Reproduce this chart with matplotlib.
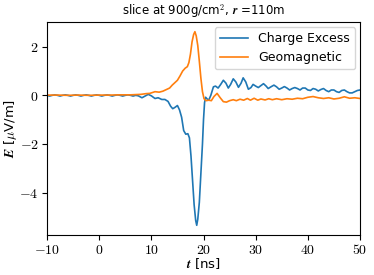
import matplotlib
matplotlib.use("Agg")
import matplotlib.pyplot as plt
from matplotlib.ticker import FuncFormatter

plt.rcParams['mathtext.fontset'] = 'cm'
plt.rcParams['font.family'] = ['DejaVu Sans']

# ---- data ----
t_ce = [-10, -9.5, -9, -8.5, -8, -7.5, -7, -6.5, -6, -5.5, -5, -4.5, -4, -3.5, -3, -2.5,
        -2, -1.5, -1, -0.5, 0, 0.5, 1, 1.5, 2, 2.5, 3, 3.5, 4, 4.5, 5, 5.5, 6, 6.5, 7,
        7.5, 8.2, 8.8, 9.4, 10.0, 10.7, 11.3, 12.0, 12.6, 13.2, 13.7, 14.1, 14.5, 15.0,
        15.4, 15.8, 16.2, 16.6, 17.0, 17.3, 17.6, 17.9, 18.2, 18.5, 18.7, 18.9, 19.2,
        19.5, 19.8, 20.0, 20.2, 20.4, 20.7, 21.0, 21.4, 21.9, 22.3, 22.8, 23.3, 23.8,
        24.3, 24.75, 25.2, 25.7, 26.2, 26.7, 27.2, 27.6, 28.1, 28.6, 29.1, 29.5, 30.0,
        30.5, 31.0, 31.5, 32.0, 32.4, 33.0, 33.5, 34.0, 34.5, 35.0, 35.5, 36.0, 36.5,
        37.0, 37.5, 38.0, 38.5, 39.0, 39.5, 40.0, 40.5, 41.0, 41.5, 42.0, 42.5, 43.0,
        43.5, 44.0, 44.5, 45.0, 45.5, 46.0, 46.5, 47.0, 47.5, 48.0, 48.5, 49.0, 49.5, 50.0]
e_ce = [0.0, -0.03, 0.0, 0.02, 0.0, -0.03, 0.0, 0.02, 0.0, -0.03, 0.0, 0.02, 0.0, -0.03,
        0.0, 0.02, 0.0, -0.03, 0.0, 0.02, 0.0, -0.03, 0.0, 0.02, 0.0, -0.03, 0.0, 0.02,
        0.0, -0.03, 0.0, 0.02, 0.0, -0.03, 0.0,
        -0.02, -0.1, -0.03, 0.04, -0.02, -0.13, -0.1, -0.17, -0.17, -0.25, -0.45, -0.55,
        -0.5, -0.42, -0.6, -0.9, -1.45, -1.6, -1.58, -1.75, -2.5, -3.5, -4.5, -5.15,
        -5.35, -5.1, -4.4, -3.2, -2.0, -1.0, -0.3, -0.08, -0.15, -0.2, 0.0, 0.35, 0.38,
        0.3, 0.45, 0.62, 0.5, 0.3, 0.45, 0.68, 0.55, 0.33, 0.5, 0.72, 0.55, 0.25, 0.32,
        0.45, 0.38, 0.32, 0.4, 0.48, 0.38, 0.28, 0.36, 0.42, 0.35, 0.25, 0.3, 0.36, 0.3,
        0.22, 0.28, 0.32, 0.28, 0.22, 0.3, 0.3, 0.22, 0.2, 0.28, 0.25, 0.18, 0.24, 0.28,
        0.2, 0.15, 0.22, 0.22, 0.15, 0.12, 0.2, 0.22, 0.15, 0.1, 0.1, 0.15, 0.2, 0.22]

t_geo = [-10, -8, -6, -4, -2, 0, 2, 4, 6, 7, 8, 9, 9.7, 10.7, 11.5, 12.2, 13, 13.5, 14,
         14.5, 15, 15.5, 16, 16.5, 16.9, 17.2, 17.5, 17.8, 18.1, 18.35, 18.6, 18.9, 19.2,
         19.5, 19.8, 20.1, 20.5, 21.0, 21.5, 22.0, 22.6, 23.2, 23.8, 24.4, 25.0, 25.7,
         26.3, 27.0, 27.7, 28.4, 29.0, 29.7, 30.4, 31.0, 31.8, 32.5, 33.2, 34, 35, 36, 37,
         38, 39, 40, 41, 42, 43, 44, 45, 46, 47, 48, 49, 50]
e_geo = [0.01, 0.01, 0.0, 0.01, 0.0, 0.01, 0.01, 0.02, 0.02, 0.03, 0.04, 0.07, 0.08, 0.15,
         0.13, 0.17, 0.25, 0.3, 0.42, 0.52, 0.62, 0.8, 1.0, 1.12, 1.18, 1.35, 1.7, 2.2,
         2.5, 2.62, 2.45, 2.05, 1.4, 0.7, 0.15, -0.14, -0.22, -0.2, -0.22, -0.05, 0.08,
         -0.1, -0.26, -0.28, -0.22, -0.18, -0.22, -0.16, -0.2, -0.13, -0.2, -0.12, -0.2,
         -0.15, -0.19, -0.14, -0.18, -0.14, -0.18, -0.14, -0.16, -0.12, -0.14, -0.08,
         -0.05, -0.1, -0.13, -0.1, -0.15, -0.12, -0.06, -0.12, -0.1, -0.13]

xticks = [-10, 0, 10, 20, 30, 40, 50]
yticks = [-4, -2, 0, 2]

fig = plt.figure(figsize=(3.74, 2.75), dpi=100)
ax = fig.add_axes([0.1257, 0.1455, 0.8369, 0.7745])
ax.plot(t_ce, e_ce, color='#1f77b4', lw=1.2, label='Charge Excess')
ax.plot(t_geo, e_geo, color='#ff7f0e', lw=1.2, label='Geomagnetic')
ax.set_xlim(-10, 50)
ax.set_xticks(xticks)
ax.set_yticks(yticks)
fmt = FuncFormatter(lambda v, p: r'$\mathbf{%d}$' % v)
ax.xaxis.set_major_formatter(fmt)
ax.yaxis.set_major_formatter(fmt)
ax.tick_params(labelsize=10, length=3.5, pad=2.5)
ax.set_xlabel(r'$\mathbfit{t}$ [ns]', fontsize=9.5)
ax.xaxis.set_label_coords(0.5, -0.1)
ax.set_ylabel(r'$\mathbfit{E}$ [$\mu$V/m]', fontsize=9.5)
ax.yaxis.set_label_coords(-0.09, 0.5)
ax.set_title(r'slice at 900g/cm$^{\mathbf{2}}$, $\mathbfit{r}$ =110m', fontsize=8.5, pad=5)
ax.legend(loc='upper right', fontsize=9, handlelength=2.3, borderaxespad=0.4)
fig.savefig('out.png', dpi=100)
